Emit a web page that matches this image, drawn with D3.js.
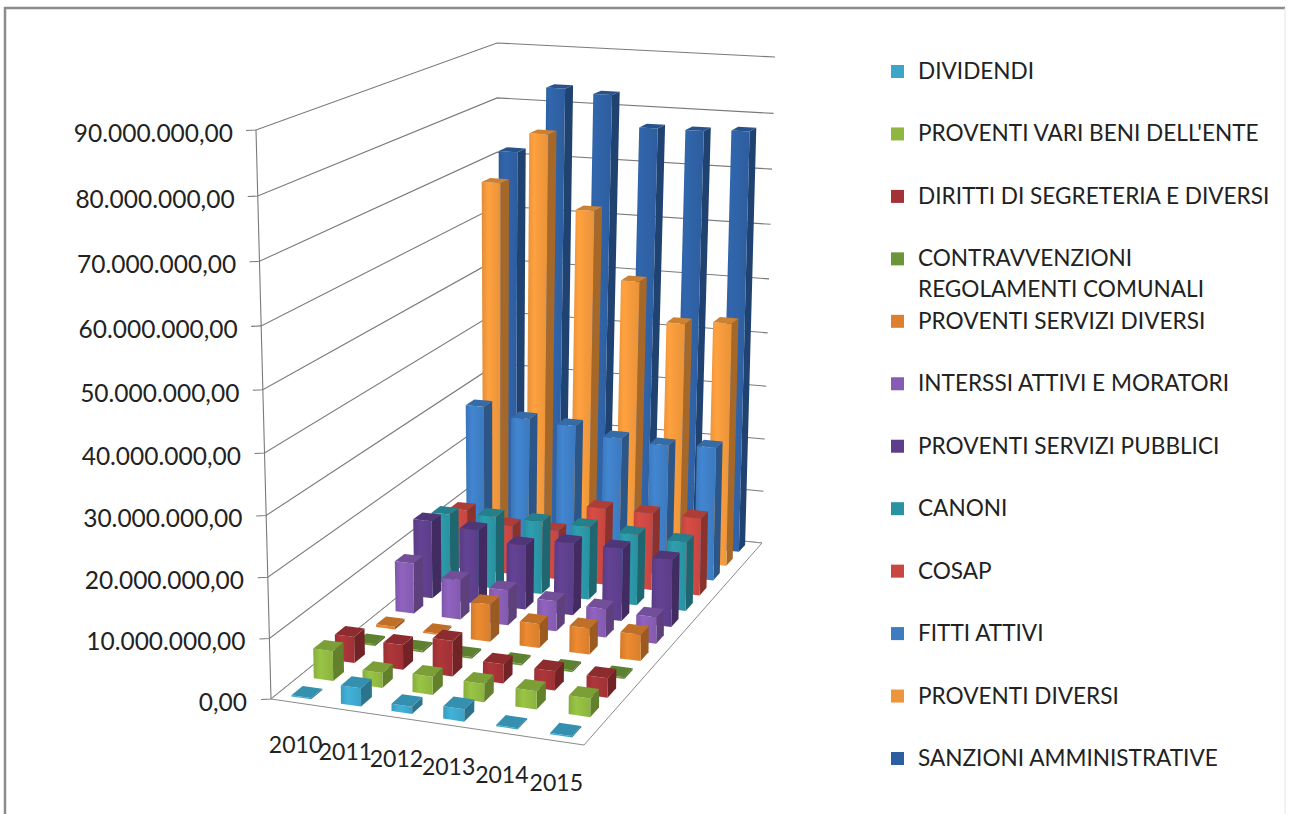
<!DOCTYPE html>
<html><head><meta charset="utf-8">
<script src="https://cdnjs.cloudflare.com/ajax/libs/d3/7.8.5/d3.min.js"></script>
<style>html,body{margin:0;padding:0;background:#fff}svg{display:block}text{font-family:Lato,"Open Sans",sans-serif;fill:#222}</style>
</head><body><svg id="c" width="1293" height="814"></svg>
<script>
const years = ["2010","2011","2012","2013","2014","2015"];
const seriesNames = ["DIVIDENDI","PROVENTI VARI BENI DELL'ENTE","DIRITTI DI SEGRETERIA E DIVERSI","CONTRAVVENZIONI REGOLAMENTI COMUNALI","PROVENTI SERVIZI DIVERSI","INTERSSI ATTIVI E MORATORI","PROVENTI SERVIZI PUBBLICI","CANONI","COSAP","FITTI ATTIVI","PROVENTI DIVERSI","SANZIONI AMMINISTRATIVE"];
const seriesColors = ["#3fabd0","#93bd42","#a83438","#6f9a3a","#e4852f","#8a5fb8","#60408f","#2c98a8","#cf4a42","#3f80c8","#f59a3c","#2f62a6"];
const dividendi = [0.2,3,1.2,2,0.2,0.2];
const proventiVari = [5,2.5,3,3,3,3];
const diritti = [4.5,4.2,6,3.2,3.2,3.2];
const contravvenzioni = [0.3,0.3,0.3,0.3,0.3,0.3];
const serviziDiversi = [0.5,0.3,6.5,4.2,4.5,4.5];
const interessi = [9,7,6.2,5.3,5,4.6];
const serviziPubblici = [14,13.3,11.5,12.8,12.8,11.8];
const canoni = [12.7,13.2,13.2,13.2,12.7,12.3];
const cosap = [11,9,9,14,14,14];
const fitti = [28,26.5,26,24.5,24,24.4];
const proventiDiversi = [67.2,76.5,63.3,51.1,44.1,44.8];
const sanzioni = [71.4,83.4,82.7,77.2,77.2,77.6];
const allSeries = [dividendi,proventiVari,diritti,contravvenzioni,serviziDiversi,interessi,serviziPubblici,canoni,cosap,fitti,proventiDiversi,sanzioni];
const valueTicks = d3.range(0,90000001,10000000);

const svg = d3.select("#c");
const defs = svg.append("defs");

function homography(q){ // unit square (0,0)(1,0)(1,1)(0,1) -> q0..q3
  const [[x0,y0],[x1,y1],[x2,y2],[x3,y3]] = q;
  const dx1=x1-x2,dx2=x3-x2,sx=x0-x1+x2-x3,dy1=y1-y2,dy2=y3-y2,sy=y0-y1+y2-y3;
  const den=dx1*dy2-dx2*dy1, g=(sx*dy2-dx2*sy)/den, h=(dx1*sy-sx*dy1)/den;
  const a=x1-x0+g*x1,b=x3-x0+h*x3,c=x0,d=y1-y0+g*y1,e=y3-y0+h*y3,f=y0;
  return (u,v)=>{const w=g*u+h*v+1;return [(a*u+b*v+c)/w,(d*u+e*v+f)/w];};
}
const floorH = homography([[271,699],[584,745],[762,543],[498,516]]);
const topH = homography([[256,130],[590,143],[775,57],[497,43]]);
const K = 0.05;
const zScale = d3.scaleLinear().domain([0,90000000]).range([0,1]);
function proj(u,v,val){
  const z = zScale(val), t = z/(1+K*(1-z));
  const a=floorH(u,v), b=topH(u,v);
  return [a[0]+(b[0]-a[0])*t, a[1]+(b[1]-a[1])*t];
}
const xBand = d3.scaleBand().domain(years).range([0,1]).paddingInner(0.6).paddingOuter(0.3);
const yBand = d3.scaleBand().domain(seriesNames).range([0,1]).paddingInner(0.5).paddingOuter(0.25);
const pathOf = pts => "M"+pts.map(p=>p.map(n=>n.toFixed(1)).join(",")).join("L")+"Z";

// frame
svg.append("path").attr("d","M5,830V8H1285").attr("fill","none").attr("stroke","#8c8c8c").attr("stroke-width",2.5);
svg.append("line").attr("x1",1285).attr("x2",1285).attr("y1",8).attr("y2",814).attr("stroke","#e4e4e4");

// walls grid
const grid = svg.append("g").attr("fill","none").attr("stroke","#7a7a7a").attr("stroke-width",1.1);
valueTicks.forEach(v=>{
  const a=proj(0,0,v),b=proj(0,1,v),c=proj(1,1,v);
  grid.append("path").attr("d",`M${a[0]-10},${a[1]+0.5}L${a}L${b}L${c}`);
});
grid.append("path").attr("d",d3.line()([proj(0,0,0),proj(0,0,90000000)]));
// floor
svg.append("path").attr("d",pathOf([proj(0,0,0),proj(1,0,0),proj(1,1,0),proj(0,1,0)]))
  .attr("fill","#fff").attr("stroke","#8a8a8a").attr("stroke-width",1);

// y labels
const it = d3.formatLocale({decimal:",",thousands:".",grouping:[3],currency:["",""]}).format(",.2f");
svg.append("g").selectAll("text").data(valueTicks).join("text")
  .attr("x",v=>233+(proj(0,0,v)[0]-256)*0.93).attr("y",v=>proj(0,0,v)[1]+12)
  .attr("text-anchor","end").attr("font-size",24.5).text(it);

// year labels
svg.append("g").selectAll("text").data(years).join("text")
  .attr("x",y=>proj(xBand(y)+xBand.bandwidth()/2,0,0)[0])
  .attr("y",y=>proj(xBand(y)+xBand.bandwidth()/2,0,0)[1]+50)
  .attr("text-anchor","middle").attr("font-size",23).text(d=>d);

// bars
const bars = svg.append("g");
seriesNames.map((n,j)=>j).reverse().forEach(j=>{
  const col = seriesColors[j], c = d3.color(col);
  const gid = "g"+j;
  const gr = defs.append("linearGradient").attr("id",gid);
  gr.append("stop").attr("offset","0%").attr("stop-color",c.darker(0.25));
  gr.append("stop").attr("offset","35%").attr("stop-color",c.brighter(0.12));
  gr.append("stop").attr("offset","100%").attr("stop-color",c.darker(0.15));
  const side = c.darker(1.1), top = c.darker(0.5);
  const v0=yBand(seriesNames[j]), v1=v0+yBand.bandwidth();
  allSeries[j].forEach((m,i)=>{
    const val=m*1e6;
    const u0=xBand(years[i]), u1=u0+xBand.bandwidth();
    const g=bars.append("g");
    g.append("path").attr("d",pathOf([proj(u1,v0,0),proj(u1,v1,0),proj(u1,v1,val),proj(u1,v0,val)])).attr("fill",side);
    g.append("path").attr("d",pathOf([proj(u0,v0,0),proj(u1,v0,0),proj(u1,v0,val),proj(u0,v0,val)])).attr("fill",`url(#${gid})`);
    g.append("path").attr("d",pathOf([proj(u0,v0,val),proj(u1,v0,val),proj(u1,v1,val),proj(u0,v1,val)])).attr("fill",top);
  });
});

// legend
const legendY = d3.scaleLinear().domain([0,11]).range([71,758]);
const lg = svg.append("g");
seriesNames.forEach((n,j)=>{
  const y=legendY(j);
  lg.append("rect").attr("x",891).attr("y",y-6).attr("width",13).attr("height",13).attr("fill",d3.color(seriesColors[j]).darker(0.1));
  const lines = j===3 ? ["CONTRAVVENZIONI","REGOLAMENTI COMUNALI"] : [n];
  lines.forEach((t,k)=>lg.append("text").attr("x",918).attr("y",y+8+k*31).attr("font-size",22.6).text(t));
});
</script></body></html>
